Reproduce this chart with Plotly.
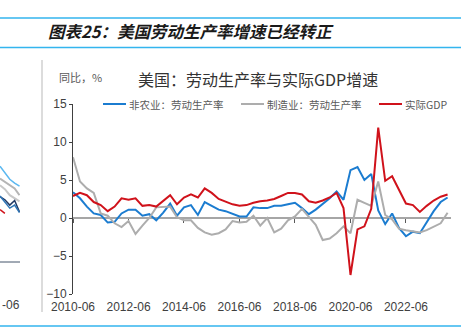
import pandas as pd
import plotly.graph_objects as go

W, H = 473, 331

# Quarterly observations, 2010-06 .. 2023-12
dates = pd.date_range(start="2010-06-01", end="2023-12-01", freq="3MS")

# Year-on-year growth, %
nonfarm_productivity = [3.4, 2.6, 1.5, 0.6, 0.4, -0.6, -0.5, 0.6, 1.1, 1.1,
                        0.3, 0.5, -0.3, 0.7, 1.9, 0.3, 1.4, 1.7, 0.4, 2.1,
                        1.6, 1.1, 0.9, 0.6, 0.2, 0.2, 1.4, 1.3, 1.3, 1.6,
                        1.6, 1.8, 2.0, 1.3, 0.5, 1.1, 1.8, 2.6, 3.5, 2.4,
                        6.3, 6.7, 5.0, 5.8, 1.0, -0.8, 0.6, -1.3, -2.4, -1.8,
                        -2.0, -0.6, 0.9, 2.1, 2.7]
manufacturing_productivity = [8.0, 4.8, 3.9, 3.3, 0.6, 0.3, -0.7, -1.2, -0.4, -2.1,
                              -1.0, 0.0, 1.4, 1.5, 1.5, 0.1, -0.3, -0.3, -1.3, -1.9,
                              -2.2, -2.0, -1.5, -0.4, -0.6, -0.5, 0.3, -1.0, 0.0, -1.9,
                              -1.4, -0.3, 0.2, 1.2, 0.2, -0.9, -2.9, -2.7, -2.0, -1.1,
                              -2.0, 2.4, 2.0, 1.6, 4.8, 0.4, -0.2, -1.4, -1.6, -1.8,
                              -1.9, -1.6, -1.2, -0.7, 0.7]
real_gdp = [2.9, 3.3, 3.0, 2.1, 1.7, 0.9, 1.5, 2.6, 2.4, 2.6,
            1.6, 1.7, 1.5, 2.2, 3.0, 1.8, 2.7, 3.1, 2.7, 3.9,
            3.3, 2.5, 2.1, 1.8, 1.6, 1.7, 2.0, 2.2, 2.3, 2.5,
            2.9, 3.3, 3.3, 3.1, 2.2, 2.0, 2.3, 2.7, 3.3, 1.3,
            -7.5, -1.5, -1.1, 1.2, 11.9, 4.9, 5.5, 3.8, 1.9, 1.7,
            0.8, 1.6, 2.3, 2.8, 3.1]

series_names = ["非农业：劳动生产率", "制造业：劳动生产率", "实际GDP"]
series_colors = ["#1B7CD0", "#ADADAD", "#D0121B"]

# Tail of the neighbouring panel (only its right edge is visible)
side_x = [0, 1, 2, 3, 4]
side_light_blue = [6.8, 5.9, 5.1, 4.6, 4.2]
side_grey_a = [5.2, 4.8, 4.3, 3.9, 3.0]
side_grey_b = [4.3, 3.8, 3.0, 2.6, 2.2]
side_navy = [2.8, 2.4, 1.7, 2.3, 0.8]
side_blue = [2.9, 2.1, 1.3, 1.7, 0.7]
side_red = [1.1, 0.6, None, None, None]

y_range = [-10, 15]
y_ticks = [-10, -5, 0, 5, 10, 15]
x_ticks = ["2010-06-01", "2012-06-01", "2014-06-01", "2016-06-01",
           "2018-06-01", "2020-06-01", "2022-06-01"]
x_ticktext = ["2010-06", "2012-06", "2014-06", "2016-06",
              "2018-06", "2020-06", "2022-06"]


def px(x):
    return x / W


def py(y):
    return 1 - y / H


ydom = [py(294), py(104)]
zero_pos = ydom[0] + (0 - y_range[0]) / (y_range[1] - y_range[0]) * (ydom[1] - ydom[0])

NARROW = "Liberation Sans Narrow, Arial Narrow, Liberation Sans, Arial, sans-serif"
CJK = "Noto Sans CJK SC, sans-serif"

fig = go.Figure()

for name, color, vals in zip(series_names, series_colors,
                             [nonfarm_productivity, manufacturing_productivity, real_gdp]):
    fig.add_trace(go.Scatter(x=dates, y=vals, mode="lines", name=name,
                             line=dict(color=color, width=2), showlegend=False,
                             xaxis="x", yaxis="y"))

for vals, color, wdt in [(side_light_blue, "#5BB8F0", 1.5), (side_grey_a, "#B5B5B5", 2),
                         (side_grey_b, "#C8C8C8", 2), (side_navy, "#1F3864", 1.5),
                         (side_blue, "#2E75B6", 1.5), (side_red, "#D0121B", 1.5)]:
    fig.add_trace(go.Scatter(x=side_x, y=vals, mode="lines", line=dict(color=color, width=wdt),
                             showlegend=False, xaxis="x2", yaxis="y2", hoverinfo="skip"))

fig.update_layout(
    width=W, height=H,
    margin=dict(l=0, r=0, t=0, b=0),
    paper_bgcolor="white", plot_bgcolor="rgba(0,0,0,0)",
    showlegend=False,
    xaxis=dict(
        domain=[px(73), px(451)],
        type="date",
        range=["2010-06-01", "2024-01-15"],
        anchor="free", position=zero_pos,
        showline=True, linecolor="#A6A6A6", linewidth=2,
        showgrid=False, zeroline=False,
        ticks="outside", ticklen=4, tickwidth=1, tickcolor="#595959",
        tickvals=x_ticks, ticktext=x_ticktext,
        ticklabelstandoff=74,
        tickfont=dict(family=NARROW, size=12, color="#404040"),
        layer="below traces",
        automargin=False,
    ),
    yaxis=dict(
        domain=ydom,
        range=y_range,
        tickvals=y_ticks,
        showline=True, linecolor="#404040", linewidth=1,
        showgrid=False, zeroline=False,
        ticks="outside", ticklen=3, tickcolor="#404040",
        tickfont=dict(family=NARROW, size=12, color="#404040"),
        anchor="x",
        automargin=False,
    ),
    xaxis2=dict(domain=[0, px(20)], range=[0, 4.1], visible=False, anchor="y2"),
    yaxis2=dict(domain=ydom, range=y_range, visible=False, anchor="x2"),
)

shapes = []
# Framing rules above and below the exhibit title and along the bottom
for yline in (18, 47.5, 326):
    shapes.append(dict(type="line", xref="paper", yref="paper",
                       x0=0, x1=px(461), y0=py(yline), y1=py(yline),
                       line=dict(color="#33B5EE", width=1.6)))
# Panel divider
shapes.append(dict(type="line", xref="paper", yref="paper",
                   x0=px(42), x1=px(42), y0=py(60), y1=py(312),
                   line=dict(color="#DCDCDC", width=2)))
# Neighbouring panel baseline
shapes.append(dict(type="line", xref="paper", yref="paper",
                   x0=0, x1=px(20), y0=py(262), y1=py(262),
                   line=dict(color="#44546A", width=1)))

# Legend
legend_x = [103, 241, 379]
for lx, color in zip(legend_x, series_colors):
    shapes.append(dict(type="line", xref="paper", yref="paper",
                       x0=px(lx), x1=px(lx + 23), y0=py(104), y1=py(104),
                       line=dict(color=color, width=2)))
fig.update_layout(shapes=shapes)

annotations = [
    dict(text="图表25：美国劳动生产率增速已经转正", x=px(46), y=py(31),
         font=dict(family=CJK, size=16.5, color="#1A1A1A", weight="bold", style="italic")),
    dict(text="同比，%", x=px(57), y=py(77),
         font=dict(family=CJK, size=11, color="#595959")),
    dict(text="美国：劳动生产率与实际GDP增速", x=px(136), y=py(79),
         font=dict(family=CJK, size=16, color="#333333")),
    dict(text="-06", x=px(0), y=py(305),
         font=dict(family=NARROW, size=12, color="#404040")),
]
for lx, name in zip(legend_x, series_names):
    annotations.append(dict(text=name, x=px(lx + 24), y=py(104),
                            font=dict(family=CJK, size=10.5, color="#595959")))
for a in annotations:
    a.update(xref="paper", yref="paper", xanchor="left", yanchor="middle",
             showarrow=False)
fig.update_layout(annotations=annotations)

fig.write_html("out.html")
